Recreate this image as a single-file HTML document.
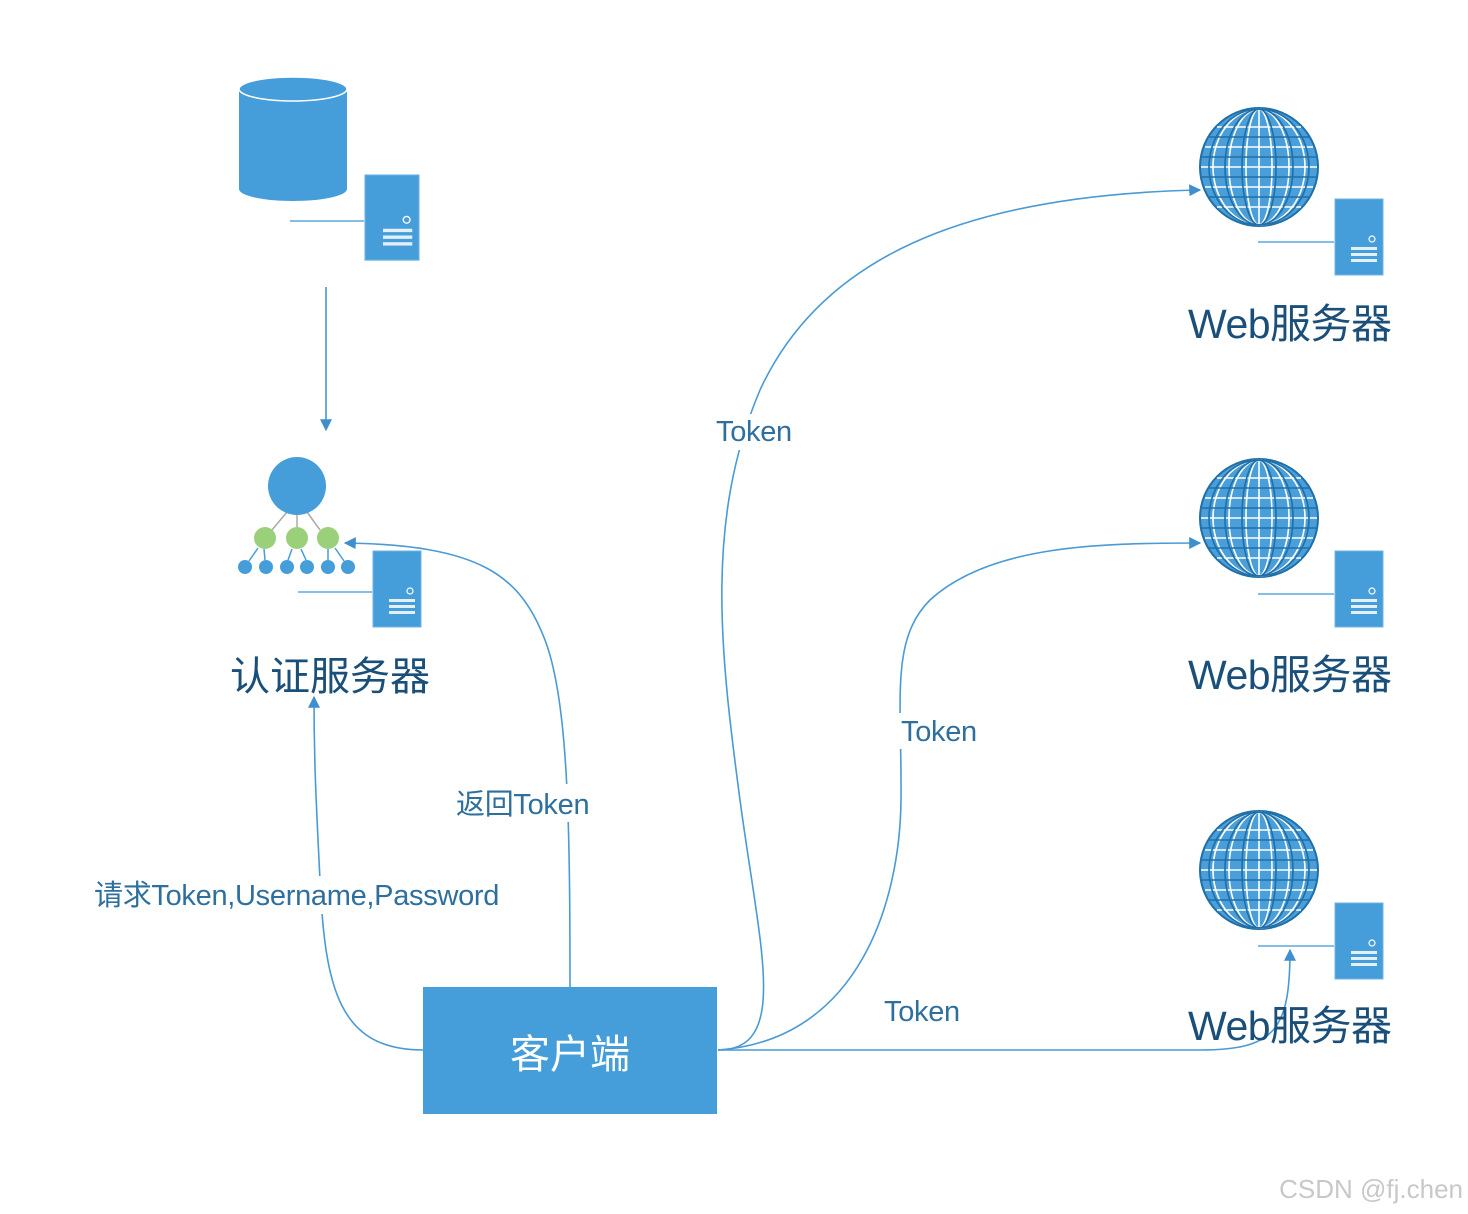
<!DOCTYPE html>
<html><head><meta charset="utf-8"><style>
html,body{margin:0;padding:0;background:#fff;}
svg{display:block;}
text{font-family:"Liberation Sans","Noto Sans CJK SC",sans-serif;}
</style></head><body>
<svg width="1468" height="1214" viewBox="0 0 1468 1214" xmlns="http://www.w3.org/2000/svg">
<defs>
<marker id="ar" viewBox="0 0 10 10" refX="9" refY="5" markerWidth="12" markerHeight="12" markerUnits="userSpaceOnUse" orient="auto">
<path d="M0,0 L10,5 L0,10 z" fill="#3f8fcf"/></marker>
<g id="globe">
<circle cx="0" cy="0" r="60" fill="#1f6fa8"/>
<circle cx="0" cy="0" r="58" fill="#4a9ed9"/>
<g fill="none" stroke="#fff" stroke-width="1.6">
<ellipse cx="0" cy="0" rx="13" ry="58"/><ellipse cx="0" cy="0" rx="30" ry="58"/><ellipse cx="0" cy="0" rx="46" ry="58"/>
<line x1="0" y1="-58" x2="0" y2="58"/>
<line x1="-58" y1="0" x2="58" y2="0"/>
<line x1="-54" y1="-20" x2="54" y2="-20"/><line x1="-54" y1="20" x2="54" y2="20"/>
<line x1="-42" y1="-40" x2="42" y2="-40"/><line x1="-42" y1="40" x2="42" y2="40"/>
</g>
<g fill="none" stroke="#1f6fa8" stroke-width="1.6">
<ellipse cx="0" cy="0" rx="17" ry="58"/><ellipse cx="0" cy="0" rx="34" ry="58"/><ellipse cx="0" cy="0" rx="50" ry="58"/>
<line x1="-57" y1="-10" x2="57" y2="-10"/><line x1="-57" y1="10" x2="57" y2="10"/>
<line x1="-50" y1="-30" x2="50" y2="-30"/><line x1="-50" y1="30" x2="50" y2="30"/>
</g>
</g>
<g id="srv">
<rect x="0" y="0" width="48" height="76" fill="#459dda" stroke="#6fb3e3" stroke-width="1"/>
<circle cx="37" cy="40" r="3" fill="none" stroke="#fff" stroke-width="1.2"/>
<rect x="16" y="48" width="26" height="3" fill="#fff" opacity=".85"/>
<rect x="16" y="54" width="26" height="3" fill="#fff" opacity=".85"/>
<rect x="16" y="60" width="26" height="3" fill="#fff" opacity=".85"/>
</g>
</defs>

<!-- Database -->
<path d="M239,89 L239,189 A54,12 0 0 0 347,189 L347,89 Z" fill="#459dda"/>
<ellipse cx="293" cy="89" rx="54" ry="12" fill="#459dda" stroke="#fff" stroke-width="1.5"/>
<line x1="290" y1="221" x2="364" y2="221" stroke="#5fa8de" stroke-width="1.5"/>
<g transform="translate(365,175) scale(1.125,1.12)"><use href="#srv"/></g>

<line x1="326" y1="287" x2="326" y2="430" stroke="#3f8fcf" stroke-width="1.5" marker-end="url(#ar)"/>

<!-- Auth hierarchy -->
<g stroke="#aaa" stroke-width="1.5">
<line x1="287" y1="512" x2="272" y2="530"/><line x1="297" y1="514" x2="297" y2="528"/><line x1="307" y1="512" x2="320" y2="530"/>
</g>
<g stroke="#459dda" stroke-width="1.5">
<line x1="258" y1="548" x2="249" y2="561"/><line x1="264" y1="549" x2="265" y2="560"/>
<line x1="292" y1="549" x2="288" y2="560"/><line x1="301" y1="549" x2="306" y2="560"/>
<line x1="328" y1="549" x2="328" y2="560"/><line x1="335" y1="548" x2="344" y2="561"/>
</g>
<circle cx="297" cy="486" r="29" fill="#459dda"/>
<circle cx="265" cy="538" r="11" fill="#9bd07a"/><circle cx="297" cy="538" r="11" fill="#9bd07a"/><circle cx="328" cy="538" r="11" fill="#9bd07a"/>
<g fill="#459dda"><circle cx="245" cy="567" r="7"/><circle cx="266" cy="567" r="7"/><circle cx="287" cy="567" r="7"/><circle cx="307" cy="567" r="7"/><circle cx="328" cy="567" r="7"/><circle cx="348" cy="567" r="7"/></g>
<line x1="298" y1="592" x2="372" y2="592" stroke="#5fa8de" stroke-width="1.5"/>
<use href="#srv" x="373" y="551"/>
<text x="330" y="690" font-size="40" fill="#1a4f7a" text-anchor="middle">认证服务器</text>

<!-- Web servers -->
<use href="#globe" x="1259" y="167"/>
<use href="#globe" x="1259" y="518"/>
<use href="#globe" x="1259" y="870"/>
<g stroke="#5fa8de" stroke-width="1.5">
<line x1="1258" y1="242" x2="1334" y2="242"/><line x1="1258" y1="594" x2="1334" y2="594"/><line x1="1258" y1="946" x2="1334" y2="946"/>
</g>
<use href="#srv" x="1335" y="199"/>
<use href="#srv" x="1335" y="551"/>
<use href="#srv" x="1335" y="903"/>

<!-- Connectors -->
<g fill="none" stroke="#4a9ad6" stroke-width="1.6">
<path d="M423,1050 C340,1050 325,990 320,880 C316,800 314,760 314,697" marker-end="url(#ar)"/>
<path d="M570,987 C570,820 568,700 545,640 C520,575 480,545 345,543" marker-end="url(#ar)"/>
<path d="M718,1050 C790,1050 760,950 740,800 C720,650 705,520 760,390 C820,260 960,195 1200,190" marker-end="url(#ar)"/>
<path d="M718,1050 C860,1040 900,900 901,800 C902,700 890,640 930,600 C990,545 1100,543 1200,543" marker-end="url(#ar)"/>
<path d="M718,1050 L1200,1050 C1275,1050 1290,1030 1290,950" marker-end="url(#ar)"/>
</g>

<g fill="#fff">
<rect x="714" y="414" width="84" height="36"/>
<rect x="899" y="713" width="84" height="36"/>
<rect x="454" y="784" width="146" height="38"/>
<rect x="92" y="876" width="414" height="38"/>
</g>
<g fill="#2e6f9e" font-size="29" letter-spacing="-0.3">
<text x="716" y="441">Token</text>
<text x="901" y="741">Token</text>
<text x="884" y="1021">Token</text>
<text x="456" y="814">返回Token</text>
<text x="94" y="905">请求Token,Username,Password</text>
</g>

<rect x="423" y="987" width="294" height="127" fill="#459dda"/>
<text x="570" y="1068" font-size="40" fill="#fff" text-anchor="middle">客户端</text>

<g font-size="41" fill="#1a4f7a" letter-spacing="-0.5">
<text x="1188" y="338">Web服务器</text>
<text x="1188" y="689">Web服务器</text>
<text x="1188" y="1040">Web服务器</text>
</g>

<text x="1463" y="1198" font-size="26" fill="#c8c8c8" text-anchor="end">CSDN @fj.chen</text>
</svg>
</body></html>
